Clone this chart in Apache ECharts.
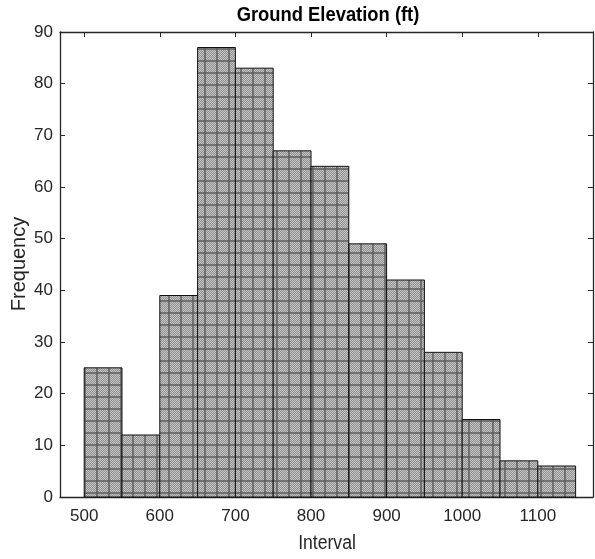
<!DOCTYPE html>
<html><head><meta charset="utf-8">
<script src="https://cdn.jsdelivr.net/npm/echarts@6/dist/echarts.min.js"></script>
<style>html,body{margin:0;padding:0;background:#fff}#c{width:595px;height:559px}</style>
</head><body><div id="c"></div>
<script>
const binStarts = [500, 550, 600, 650, 700, 750, 800, 850, 900, 950, 1000, 1050, 1100];
const binWidth = 50;
const counts = [25, 12, 39, 87, 83, 67, 64, 49, 42, 28, 15, 7, 6];
const xTicks = [500, 600, 700, 800, 900, 1000, 1100];
const yTicks = [0, 10, 20, 30, 40, 50, 60, 70, 80, 90];
const titleText = 'Ground Elevation (ft)';
const xName = 'Interval';
const yName = 'Frequency';

function makeTile() {
  const s = 12;
  const c = document.createElement('canvas');
  c.width = s; c.height = s;
  const g = c.getContext('2d');
  for (let y = 0; y < s; y++) for (let x = 0; x < s; x++) {
    const k = (x + y) % 2 === 0;
    g.fillStyle = k ? '#c4c4c4' : '#929292';
    g.fillRect(x, y, 1, 1);
  }
  g.fillStyle = 'rgba(90,90,90,0.7)';
  g.fillRect(0, 0, s, 2);
  g.fillRect(0, 0, 2, s);
  return c;
}
const tile = makeTile();

const data = binStarts.map((b, i) => [b, b + binWidth, counts[i]]);
const font = '"Liberation Sans", Arial, sans-serif';
const fmt = v => String(v);

const chart = echarts.init(document.getElementById('c'), null, {renderer: 'canvas'});
chart.setOption({
  animation: false,
  backgroundColor: '#fff',
  graphic: [{
    type: 'text', x: 328, y: 15, scaleX: 0.875,
    style: {text: titleText, font: 'bold 21px "Liberation Sans", Arial, sans-serif', fill: '#000', textAlign: 'center', textVerticalAlign: 'middle'}
  }, {
    type: 'text', x: 327, y: 543, scaleX: 0.88,
    style: {text: xName, font: '20px "Liberation Sans", Arial, sans-serif', fill: '#262626', textAlign: 'center', textVerticalAlign: 'middle'}
  }, {
    type: 'text', x: 19, y: 264, rotation: Math.PI / 2,
    style: {text: yName, font: '20px "Liberation Sans", Arial, sans-serif', fill: '#262626', textAlign: 'center', textVerticalAlign: 'middle'}
  }],
  grid: {left: 60, right: 2, top: 32, bottom: 62, containLabel: false, outerBoundsMode: 'none'},
  xAxis: [{
    type: 'value', min: 468, max: 1173, position: 'bottom',
    axisLine: {show: true, onZero: false, lineStyle: {color: '#262626', width: 1.3}},
    axisTick: {show: true, inside: true, length: 5, customValues: xTicks, lineStyle: {color: '#262626'}},
    axisLabel: {customValues: xTicks, formatter: fmt, fontFamily: font, fontSize: 17, color: '#262626', margin: 11},
    splitLine: {show: false}
  }, {
    type: 'value', min: 468, max: 1173, position: 'top',
    axisLine: {show: true, onZero: false, lineStyle: {color: '#262626', width: 1.3}},
    axisTick: {show: true, inside: true, length: 5, customValues: xTicks, lineStyle: {color: '#262626'}},
    axisLabel: {show: false}, splitLine: {show: false}
  }],
  yAxis: [{
    type: 'value', min: 0, max: 90, interval: 10, position: 'left',
    axisLine: {show: true, onZero: false, lineStyle: {color: '#262626', width: 1.3}},
    axisTick: {show: true, inside: true, length: 5, customValues: yTicks, lineStyle: {color: '#262626'}},
    axisLabel: {customValues: yTicks, formatter: fmt, fontFamily: font, fontSize: 17, color: '#262626', margin: 7},
    splitLine: {show: false}
  }, {
    type: 'value', min: 0, max: 90, interval: 10, position: 'right',
    axisLine: {show: true, onZero: false, lineStyle: {color: '#262626', width: 1.3}},
    axisTick: {show: true, inside: true, length: 5, lineStyle: {color: '#262626'}},
    axisLabel: {show: false}, splitLine: {show: false}
  }],
  series: [{
    type: 'custom',
    xAxisIndex: 0, yAxisIndex: 0,
    data: data,
    encode: {x: [0, 1], y: 2},
    renderItem: function (params, api) {
      const p0 = api.coord([api.value(0), 0]);
      const p1 = api.coord([api.value(1), api.value(2)]);
      return {
        type: 'rect',
        shape: {x: p0[0], y: p1[1], width: p1[0] - p0[0], height: p0[1] - p1[1]},
        style: {fill: {image: tile, repeat: 'repeat'}, stroke: '#111', lineWidth: 1}
      };
    }
  }]
});
</script></body></html>
